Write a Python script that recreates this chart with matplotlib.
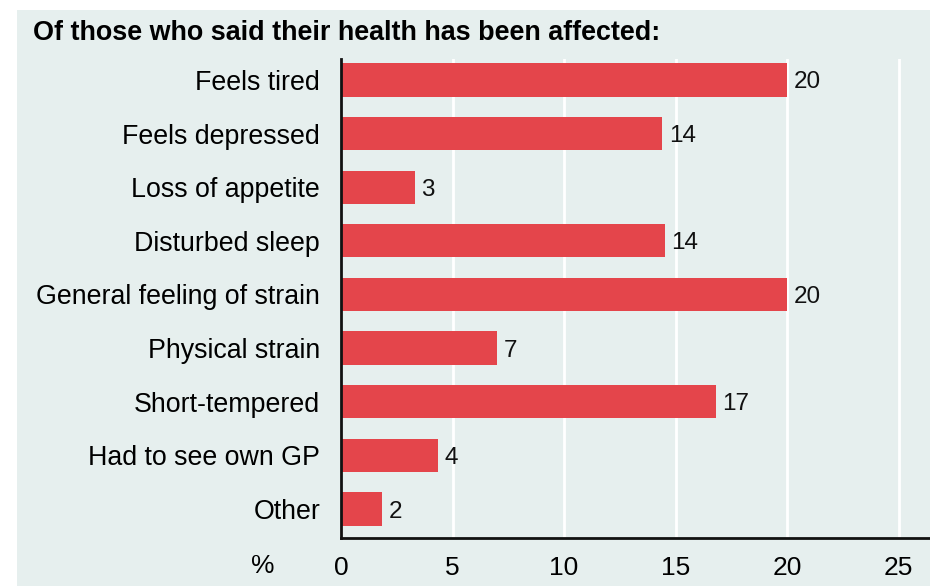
import matplotlib
matplotlib.use('Agg')
import matplotlib.pyplot as plt
from matplotlib.patches import Rectangle

plt.rcParams['font.family'] = ['Liberation Sans', 'DejaVu Sans']

categories = ['Feels tired', 'Feels depressed', 'Loss of appetite', 'Disturbed sleep',
              'General feeling of strain', 'Physical strain', 'Short-tempered',
              'Had to see own GP', 'Other']
values = [20.0, 14.4, 3.3, 14.5, 20.0, 7.0, 16.8, 4.35, 1.84]
labels = ['20', '14', '3', '14', '20', '7', '17', '4', '2']
xticks = [0, 5, 10, 15, 20, 25]

bg = '#e6efee'
red = '#e4454b'

fig = plt.figure(figsize=(9.3, 5.86), dpi=100)
fig.patches.append(Rectangle((17 / 930, 0), 1, 1 - 10 / 586, transform=fig.transFigure,
                             facecolor=bg, edgecolor='none', zorder=-10))

ax = fig.add_axes([341 / 930, 48 / 586, 1 - 341 / 930, (538 - 59) / 586])
ax.patch.set_alpha(0)

y = list(range(len(categories)))
ax.barh(y, values, height=0.62, color=red, zorder=3)
for yi, v, lab in zip(y, values, labels):
    ax.text(v + 0.3, yi, lab, va='center_baseline', ha='left', fontsize=17.5, color='#111111')

ax.set_xlim(0, 26.4)
ax.set_ylim(8.54, -0.39)
ax.set_yticks(y)
ax.set_yticklabels(categories, fontsize=19.3)
ax.set_xticks(xticks)
ax.set_xticklabels([str(t) for t in xticks], fontsize=19)
ax.tick_params(axis='y', length=0, pad=15)
ax.tick_params(axis='x', length=0, pad=13)
ax.grid(axis='x', color='white', linewidth=2, zorder=1)
ax.set_axisbelow(True)

for s in ['top', 'right']:
    ax.spines[s].set_visible(False)
for s in ['left', 'bottom']:
    ax.spines[s].set_linewidth(2)
    ax.spines[s].set_color('#111111')
    ax.spines[s].set_zorder(4)

fig.text(263 / 930, 1 - 566 / 586, '%', fontsize=19, ha='center', va='center')
fig.text(33 / 930, 1 - 33 / 586, 'Of those who said their health has been affected:',
         fontsize=19.4, fontweight='bold', ha='left', va='center')

fig.savefig('out.png', dpi=100)
